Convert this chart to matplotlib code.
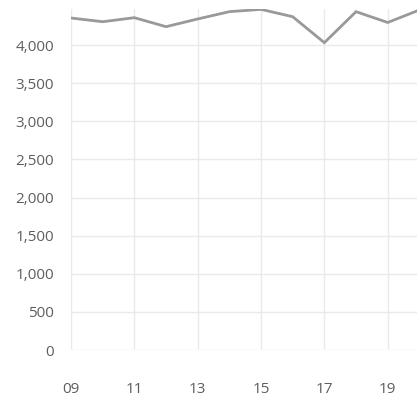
import matplotlib
matplotlib.use("Agg")
import matplotlib.pyplot as plt
from matplotlib.ticker import FuncFormatter, MultipleLocator

hours = [9, 10, 11, 12, 13, 14, 15, 16, 17, 18, 19, 20]
values = [4357, 4308, 4361, 4243, 4344, 4440, 4470, 4374, 4033, 4440, 4298, 4462]
xtick_vals = [9, 11, 13, 15, 17, 19]
xtick_labels = ["09", "11", "13", "15", "17", "19"]

W, H = 417, 400
fig = plt.figure(figsize=(W / 100, H / 100), dpi=100)
left, right, bottom, top = 71, 417, 350, 9
ax = fig.add_axes([left / W, (H - bottom) / H, (right - left) / W, (bottom - top) / H])

ax.plot(hours, values, color="#999999", lw=2.0, solid_joinstyle="miter", zorder=3)

px_per_unit = 31.67
ax.set_xlim(9, 9 + (right - left) / px_per_unit)
ax.set_ylim(0, 4475)

ax.set_xticks(xtick_vals)
ax.set_xticklabels(xtick_labels)
ax.yaxis.set_major_locator(MultipleLocator(500))
ax.yaxis.set_major_formatter(FuncFormatter(lambda v, p: f"{int(v):,}"))

ax.grid(True, color="#EAEAEA", lw=1.0)
ax.set_axisbelow(True)
for s in ax.spines.values():
    s.set_visible(False)

ax.tick_params(axis="both", length=0, labelsize=11, labelcolor="#605E5C")
ax.tick_params(axis="x", pad=23)
ax.tick_params(axis="y", pad=12)
for lbl in ax.get_xticklabels() + ax.get_yticklabels():
    lbl.set_family(["Open Sans", "DejaVu Sans"])

fig.savefig("out.png", dpi=100)
